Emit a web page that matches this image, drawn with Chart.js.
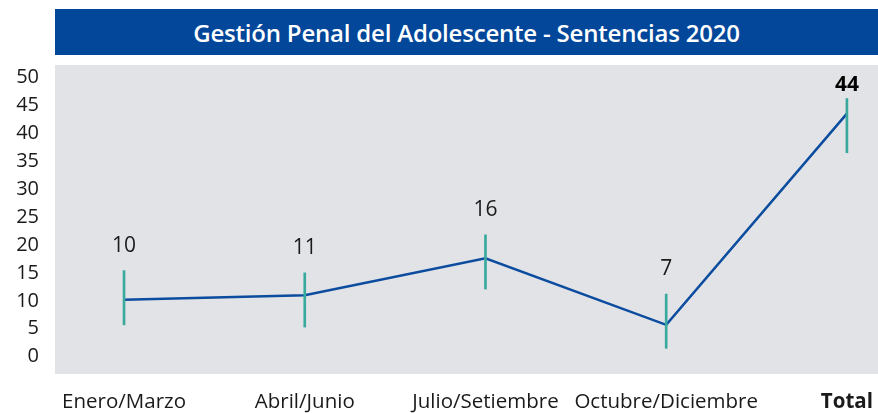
<!DOCTYPE html>
<html>
<head>
<meta charset="utf-8">
<script src="https://cdn.jsdelivr.net/npm/chart.js@4"></script>
<style>
  html, body { margin: 0; padding: 0; background: #ffffff; }
  #wrap { position: relative; width: 878px; height: 413px; }
  #title {
    position: absolute; left: 55px; top: 9px; width: 823px; height: 46px;
    background: #03479a; color: #ffffff;
    font-family: "Open Sans", Lato, sans-serif; font-weight: 600; font-size: 24px;
    letter-spacing: -0.2px;
    display: flex; align-items: center; justify-content: center;
  }
  canvas { position: absolute; left: 0; top: 0; }
</style>
</head>
<body>
<div id="wrap">
  <canvas id="c" width="878" height="413"></canvas>
  <div id="title">Gestión Penal del Adolescente - Sentencias 2020</div>
</div>
<script>
// ---- data ----
const categories = ["Enero/Marzo", "Abril/Junio", "Julio/Setiembre", "Octubre/Diciembre", "Total"];
const lineValues = [10.2, 11.0, 17.6, 5.7, 43.5];        // line as drawn
const labelValues = ["10", "11", "16", "7", "44"];         // printed values
const barLow = [5.7, 5.3, 12.1, 1.5, 36.5];               // teal markers, low end
const barHigh = [15.4, 15.0, 21.8, 11.2, 46.2];           // teal markers, high end
const yTicks = [0, 5, 10, 15, 20, 25, 30, 35, 40, 45, 50];

const FONT = "'Open Sans', Lato, sans-serif";
const lastIdx = categories.length - 1;

const plotBg = {
  id: 'plotBg',
  beforeDraw(chart) {
    const { ctx, chartArea: a } = chart;
    ctx.save();
    ctx.fillStyle = '#e2e3e7';
    ctx.fillRect(a.left, a.top, chart.width - a.left, a.bottom - a.top);
    ctx.restore();
  }
};

const valueLabels = {
  id: 'valueLabels',
  afterDatasetsDraw(chart) {
    const { ctx, scales: { x, y } } = chart;
    ctx.save();
    ctx.textAlign = 'center';
    ctx.textBaseline = 'middle';
    labelValues.forEach((t, i) => {
      const px = x.getPixelForValue(i);
      const top = y.getPixelForValue(barHigh[i]);
      if (i === lastIdx) {
        ctx.font = "700 21px " + FONT;
        ctx.fillStyle = '#000000';
        ctx.fillText(t, px, top - 14);
      } else {
        ctx.font = "400 21px " + FONT;
        ctx.fillStyle = '#1a1a1a';
        ctx.fillText(t, px, top - 25);
      }
    });
    ctx.restore();
  }
};

new Chart(document.getElementById('c'), {
  data: {
    datasets: [
      {
        type: 'bar',
        data: categories.map((_, i) => ({ x: i, y: [barLow[i], barHigh[i]] })),
        backgroundColor: '#3aa99d',
        borderWidth: 0,
        barThickness: 2,
        order: 0
      },
      {
        type: 'line',
        data: categories.map((_, i) => ({ x: i, y: lineValues[i] })),
        borderColor: '#0b4c9f',
        borderWidth: 2.5,
        pointRadius: 0,
        tension: 0,
        fill: false,
        order: 1
      }
    ]
  },
  options: {
    responsive: false,
    animation: false,
    events: [],
    layout: { padding: { top: 65, left: 0, right: 0, bottom: 0 } },
    plugins: { legend: { display: false }, tooltip: { enabled: false }, title: { display: false } },
    scales: {
      x: {
        type: 'linear',
        min: -0.382,
        max: 4.172,
        offset: false,
        grid: { display: false, drawTicks: false },
        border: { display: false },
        afterBuildTicks: s => { s.ticks = categories.map((_, i) => ({ value: i })); },
        afterFit: s => { s.height = 39; s.paddingLeft = 0; s.paddingRight = 0; },
        ticks: {
          padding: 16,
          maxRotation: 0,
          autoSkip: false,
          color: '#1a1a1a',
          font: ctx => (ctx.index === lastIdx
            ? { family: FONT, size: 20.5, weight: '700' }
            : { family: FONT, size: 20.5, weight: '400' }),
          callback: v => categories[v]
        }
      },
      y: {
        type: 'linear',
        min: -3.1,
        max: 52.2,
        grid: { display: false, drawTicks: false },
        border: { display: false },
        afterBuildTicks: s => { s.ticks = yTicks.map(v => ({ value: v })); },
        afterFit: s => { s.width = 55; s.paddingTop = 0; s.paddingBottom = 0; },
        ticks: {
          padding: 16,
          color: '#1a1a1a',
          font: { family: FONT, size: 20 }
        }
      }
    }
  },
  plugins: [plotBg, valueLabels]
});
</script>
</body>
</html>
